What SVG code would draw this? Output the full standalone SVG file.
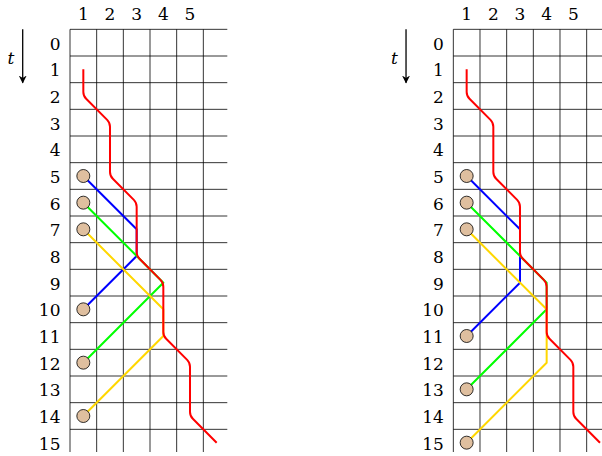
<svg xmlns="http://www.w3.org/2000/svg" width="602" height="456" viewBox="0 0 602 456">
<style>
.rl{text-anchor:end}
.cl{text-anchor:middle}
.grid line{stroke:#000;stroke-width:0.8}
.w{fill:none;stroke-width:2;stroke-linejoin:round;stroke-linecap:butt}
.red{stroke:#ff0000}
.blue{stroke:#0000ff}
.green{stroke:#00ff00}
.yellow{stroke:#ffd700}
.p{fill:#dfbf9f;stroke:#000;stroke-width:0.8}
</style>
<defs>
<marker id="ah" viewBox="0 0 10 10" refX="9" refY="5" markerWidth="8" markerHeight="8" markerUnits="userSpaceOnUse" orient="auto">
<path d="M0,0 L10,5 L0,10 L3,5 Z" fill="#000"/>
</marker>
</defs>

<g id="panel-left">
<g class="grid">
<line x1="70" y1="29.33" x2="70" y2="452"/>
<line x1="96.67" y1="29.33" x2="96.67" y2="452"/>
<line x1="123.33" y1="29.33" x2="123.33" y2="452"/>
<line x1="150" y1="29.33" x2="150" y2="452"/>
<line x1="176.67" y1="29.33" x2="176.67" y2="452"/>
<line x1="203.33" y1="29.33" x2="203.33" y2="452"/>
<line x1="70" y1="29.33" x2="227.3" y2="29.33"/>
<line x1="70" y1="56" x2="227.3" y2="56"/>
<line x1="70" y1="82.67" x2="227.3" y2="82.67"/>
<line x1="70" y1="109.33" x2="227.3" y2="109.33"/>
<line x1="70" y1="136" x2="227.3" y2="136"/>
<line x1="70" y1="162.67" x2="227.3" y2="162.67"/>
<line x1="70" y1="189.33" x2="227.3" y2="189.33"/>
<line x1="70" y1="216" x2="227.3" y2="216"/>
<line x1="70" y1="242.67" x2="227.3" y2="242.67"/>
<line x1="70" y1="269.33" x2="227.3" y2="269.33"/>
<line x1="70" y1="296" x2="227.3" y2="296"/>
<line x1="70" y1="322.67" x2="227.3" y2="322.67"/>
<line x1="70" y1="349.33" x2="227.3" y2="349.33"/>
<line x1="70" y1="376" x2="227.3" y2="376"/>
<line x1="70" y1="402.67" x2="227.3" y2="402.67"/>
<line x1="70" y1="429.33" x2="227.3" y2="429.33"/>
</g>
<g id="labels-left" font-family="'DejaVu Serif', serif" font-size="17" fill="#000">
<text x="11" y="63.5" font-style="italic" text-anchor="middle">t</text>
<line x1="22.7" y1="29.3" x2="22.7" y2="82.7" stroke="#000" stroke-width="1.3" marker-end="url(#ah)"/>
<text class="cl" x="83.33" y="19.5">1</text>
<text class="cl" x="110" y="19.5">2</text>
<text class="cl" x="136.67" y="19.5">3</text>
<text class="cl" x="163.33" y="19.5">4</text>
<text class="cl" x="190" y="19.5">5</text>
<text class="rl" x="60.5" y="49.67">0</text>
<text class="rl" x="60.5" y="76.33">1</text>
<text class="rl" x="60.5" y="103">2</text>
<text class="rl" x="60.5" y="129.67">3</text>
<text class="rl" x="60.5" y="156.33">4</text>
<text class="rl" x="60.5" y="183">5</text>
<text class="rl" x="60.5" y="209.67">6</text>
<text class="rl" x="60.5" y="236.33">7</text>
<text class="rl" x="60.5" y="263">8</text>
<text class="rl" x="60.5" y="289.67">9</text>
<text class="rl" x="60.5" y="316.33">10</text>
<text class="rl" x="60.5" y="343">11</text>
<text class="rl" x="60.5" y="369.67">12</text>
<text class="rl" x="60.5" y="396.33">13</text>
<text class="rl" x="60.5" y="423">14</text>
<text class="rl" x="60.5" y="449.67">15</text>
</g>
<g id="connectors-left">
<path class="w blue" d="M83.33,176 L136.67,229.33 L136.67,256 L83.33,309.33"/>
<path class="w green" d="M83.33,202.67 L136.67,256 L163.33,282.67 L83.33,362.67"/>
<path class="w yellow" d="M83.33,229.33 L163.33,309.33 L163.33,336 L83.33,416"/>
<path class="w red" d="M83.33,69.33 V92 Q83.33,96 86.16,98.83 L107.17,119.84 Q110,122.67 110,126.67 V172 Q110,176 112.83,178.83 L133.84,199.84 Q136.67,202.67 136.67,206.67 V252 Q136.67,256 139.5,258.83 L160.5,279.84 Q163.33,282.67 163.33,286.67 V332 Q163.33,336 166.16,338.83 L187.17,359.84 Q190,362.67 190,366.67 V412 Q190,416 192.83,418.83 L216.67,442.67"/>
</g>
<g id="particles-left">
<circle class="p" cx="83.33" cy="176" r="6.5"/>
<circle class="p" cx="83.33" cy="202.67" r="6.5"/>
<circle class="p" cx="83.33" cy="229.33" r="6.5"/>
<circle class="p" cx="83.33" cy="309.33" r="6.5"/>
<circle class="p" cx="83.33" cy="362.67" r="6.5"/>
<circle class="p" cx="83.33" cy="416" r="6.5"/>
</g>
</g>

<g id="panel-right" transform="translate(383.33,0)">
<g class="grid">
<line x1="70" y1="29.33" x2="70" y2="452"/>
<line x1="96.67" y1="29.33" x2="96.67" y2="452"/>
<line x1="123.33" y1="29.33" x2="123.33" y2="452"/>
<line x1="150" y1="29.33" x2="150" y2="452"/>
<line x1="176.67" y1="29.33" x2="176.67" y2="452"/>
<line x1="203.33" y1="29.33" x2="203.33" y2="452"/>
<line x1="70" y1="29.33" x2="227.3" y2="29.33"/>
<line x1="70" y1="56" x2="227.3" y2="56"/>
<line x1="70" y1="82.67" x2="227.3" y2="82.67"/>
<line x1="70" y1="109.33" x2="227.3" y2="109.33"/>
<line x1="70" y1="136" x2="227.3" y2="136"/>
<line x1="70" y1="162.67" x2="227.3" y2="162.67"/>
<line x1="70" y1="189.33" x2="227.3" y2="189.33"/>
<line x1="70" y1="216" x2="227.3" y2="216"/>
<line x1="70" y1="242.67" x2="227.3" y2="242.67"/>
<line x1="70" y1="269.33" x2="227.3" y2="269.33"/>
<line x1="70" y1="296" x2="227.3" y2="296"/>
<line x1="70" y1="322.67" x2="227.3" y2="322.67"/>
<line x1="70" y1="349.33" x2="227.3" y2="349.33"/>
<line x1="70" y1="376" x2="227.3" y2="376"/>
<line x1="70" y1="402.67" x2="227.3" y2="402.67"/>
<line x1="70" y1="429.33" x2="227.3" y2="429.33"/>
</g>
<g id="labels-right" font-family="'DejaVu Serif', serif" font-size="17" fill="#000">
<text x="11" y="63.5" font-style="italic" text-anchor="middle">t</text>
<line x1="22.7" y1="29.3" x2="22.7" y2="82.7" stroke="#000" stroke-width="1.3" marker-end="url(#ah)"/>
<text class="cl" x="83.33" y="19.5">1</text>
<text class="cl" x="110" y="19.5">2</text>
<text class="cl" x="136.67" y="19.5">3</text>
<text class="cl" x="163.33" y="19.5">4</text>
<text class="cl" x="190" y="19.5">5</text>
<text class="rl" x="60.5" y="49.67">0</text>
<text class="rl" x="60.5" y="76.33">1</text>
<text class="rl" x="60.5" y="103">2</text>
<text class="rl" x="60.5" y="129.67">3</text>
<text class="rl" x="60.5" y="156.33">4</text>
<text class="rl" x="60.5" y="183">5</text>
<text class="rl" x="60.5" y="209.67">6</text>
<text class="rl" x="60.5" y="236.33">7</text>
<text class="rl" x="60.5" y="263">8</text>
<text class="rl" x="60.5" y="289.67">9</text>
<text class="rl" x="60.5" y="316.33">10</text>
<text class="rl" x="60.5" y="343">11</text>
<text class="rl" x="60.5" y="369.67">12</text>
<text class="rl" x="60.5" y="396.33">13</text>
<text class="rl" x="60.5" y="423">14</text>
<text class="rl" x="60.5" y="449.67">15</text>
</g>
<g id="connectors-right">
<path class="w blue" d="M83.33,176 L136.67,229.33 L136.67,282.67 L83.33,336"/>
<path class="w green" d="M83.33,202.67 L136.67,256 L163.33,282.67 L163.33,309.33 L83.33,389.33"/>
<path class="w yellow" d="M83.33,229.33 L163.33,309.33 L163.33,362.67 L83.33,442.67"/>
<path class="w red" d="M83.33,69.33 V92 Q83.33,96 86.16,98.83 L107.17,119.84 Q110,122.67 110,126.67 V172 Q110,176 112.83,178.83 L133.84,199.84 Q136.67,202.67 136.67,206.67 V252 Q136.67,256 139.5,258.83 L160.5,279.84 Q163.33,282.67 163.33,286.67 V332 Q163.33,336 166.16,338.83 L187.17,359.84 Q190,362.67 190,366.67 V412 Q190,416 192.83,418.83 L216.67,442.67"/>
</g>
<g id="particles-right">
<circle class="p" cx="83.33" cy="176" r="6.5"/>
<circle class="p" cx="83.33" cy="202.67" r="6.5"/>
<circle class="p" cx="83.33" cy="229.33" r="6.5"/>
<circle class="p" cx="83.33" cy="336" r="6.5"/>
<circle class="p" cx="83.33" cy="389.33" r="6.5"/>
<circle class="p" cx="83.33" cy="442.67" r="6.5"/>
</g>
</g>
</svg>
